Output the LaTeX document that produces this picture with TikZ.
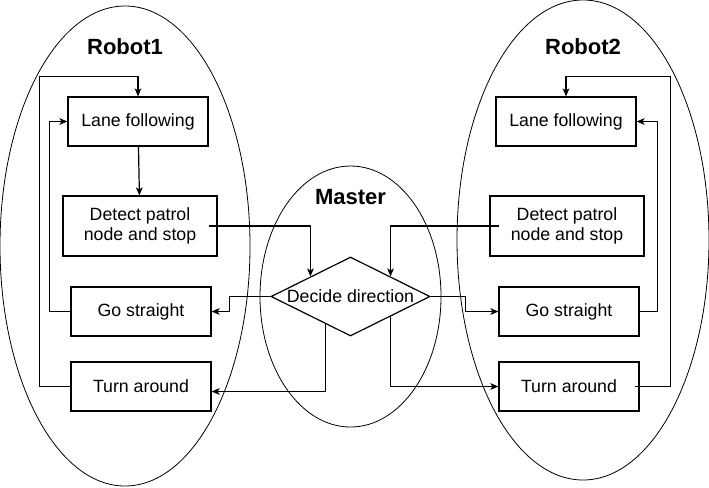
\documentclass[tikz,border=0pt]{standalone}
\usepackage{fontspec}
\setmainfont{Liberation Sans}
\usetikzlibrary{shapes.geometric,arrows.meta,calc}

\begin{document}
\begin{tikzpicture}[x=0.75pt, y=-0.75pt,
    every node/.style={font=\fontsize{13.3}{15}\selectfont},
    group/.style={draw, ellipse, line width=0.6pt, inner sep=0pt},
    title/.style={font=\fontsize{16.5}{18}\selectfont\bfseries},
    procbox/.style={draw, line width=0.9pt, align=center, inner sep=0pt,
      minimum width=105pt, minimum height=36.75pt},
    decision/.style={draw, diamond, line width=0.9pt, inner sep=0pt,
      minimum width=119.25pt, minimum height=59.25pt},
    link/.style={line width=0.9pt, -{Stealth[length=6pt, width=5pt, inset=1.5pt]}},
    plain/.style={line width=0.9pt}]
      \useasboundingbox (0,0) rectangle (709,487);

      % Three groups
      \node[group, minimum width=187.5pt, minimum height=360pt] (grp1) at (125,246) {};
      \node[group, minimum width=189pt, minimum height=360pt] (grp2) at (583,240) {};
      \node[group, minimum width=135.75pt, minimum height=195.75pt] (grpm) at (350.5,296.5) {};
      \node[title] (t1) at (125,47) {Robot1};
      \node[title] (t2) at (583,47) {Robot2};
      \node[title] (tm) at (350.5,197) {Master};

      % Robot1 steps
      \node[procbox] (lf1) at (138,121.5) {Lane following};
      \node[procbox, minimum width=115.5pt, minimum height=45pt] (dp1) at (140,226) {Detect patrol\\node and stop};
      \node[procbox] (gs1) at (141,311.5) {Go straight};
      \node[procbox] (ta1) at (141,386.5) {Turn around};

      % Robot2 steps
      \node[procbox] (lf2) at (566,121.5) {Lane following};
      \node[procbox, minimum width=115.5pt, minimum height=45pt] (dp2) at (567,226) {Detect patrol\\node and stop};
      \node[procbox] (gs2) at (569,311.5) {Go straight};
      \node[procbox] (ta2) at (569,386.5) {Turn around};

      % Master decision
      \node[decision] (dec) at (350.5,296.5) {};
      \node (dect) at (dec.center) {Decide direction};

      % Robot1 links
      \draw[link] (lf1) -- (dp1);
      \draw[link] (gs1.west) -- ++(-21,0) |- (lf1.west);
      \draw[link] (ta1.west) -- ++(-31,0) |- ($(lf1.north)+(0,-20)$) -- (lf1.north);
      \draw[link] ($(dp1.east)+(-9,0)$) -| (dec.north west);

      % Robot2 links
      \draw[link] (gs2.east) -- ++(18,0) |- (lf2.east);
      \draw[link] ($(ta2.east)+(-5,0)$) -- ++(36,0) |- ($(lf2.north)+(0,-20)$) -- (lf2.north);
      \draw[link] ($(dp2.west)+(10,0)$) -| (dec.north east);

      % Decision outputs
      \draw[link] (dec.west) -- ++(-41,0) |- (gs1.east);
      \draw[link] ($(dec.west)!0.69!(dec.south)$) |- ($(ta1.east)+(0,5)$);
      \draw[link] (dec.east) -- ++(35,0) |- (gs2.west);
      \draw[link] (dec.south east) |- (ta2.west);
    \end{tikzpicture}
\end{document}
